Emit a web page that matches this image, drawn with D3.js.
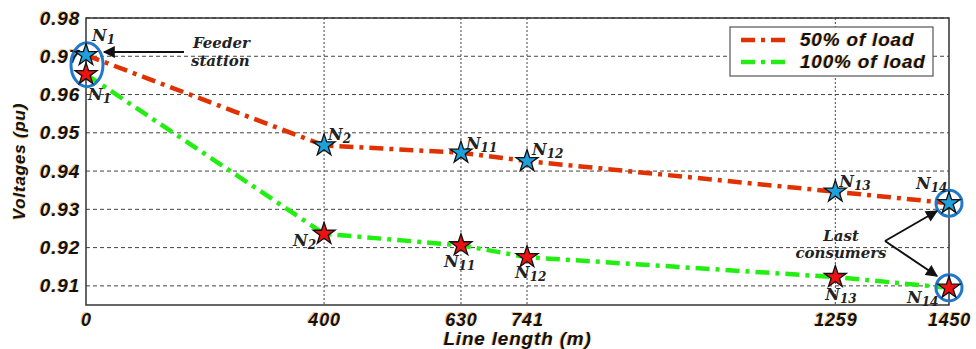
<!DOCTYPE html>
<html>
<head>
<meta charset="utf-8">
<script src="https://cdn.jsdelivr.net/npm/d3@7"></script>
<style>
  body { margin: 0; background: #fff; }
  .tick-lbl, .ax-title, .leg-txt {
    font-family: "Liberation Sans", Arial, sans-serif;
    font-weight: bold; font-style: italic; fill: #111;
    letter-spacing: 0.8px;
    text-shadow: -1px -0.5px 0.5px rgba(230,140,30,0.55);
  }
  .node-lbl, .note {
    font-family: "DejaVu Serif", serif;
    font-weight: bold; font-style: italic; fill: #222;
  }
</style>
</head>
<body>
<div id="chart"></div>
<script>
// data
const lengths = [0, 400, 630, 741, 1259, 1450];
const nodeNames = ['1', '2', '11', '12', '13', '14'];
const load50 = [0.9703, 0.9467, 0.9448, 0.9426, 0.9346, 0.9316];
const load100 = [0.9653, 0.9236, 0.9206, 0.9175, 0.9123, 0.9095];
const yTicks = [0.91, 0.92, 0.93, 0.94, 0.95, 0.96, 0.97, 0.98];
const seriesNames = ['50% of load', '100% of load'];

// label offsets (px) relative to each star
const off50 = [[6, -14], [4, -5], [5, -4], [5, -6], [4, -5], [-33, -14]];
const off100 = [[2, 26], [-31, 12], [-17, 22], [-12, 21], [-10, 23], [-42, 15]];

const W = 976, H = 349;
const margin = { top: 18, right: 27, bottom: 44, left: 86 };
const pw = W - margin.left - margin.right;
const ph = H - margin.top - margin.bottom;

const svg = d3.select('#chart').append('svg')
    .attr('width', W).attr('height', H);

const defs = svg.append('defs');
defs.append('marker')
    .attr('id', 'arr')
    .attr('viewBox', '0 0 10 10')
    .attr('refX', 9).attr('refY', 5)
    .attr('markerWidth', 7).attr('markerHeight', 6)
    .attr('markerUnits', 'strokeWidth')
    .attr('orient', 'auto')
    .append('path')
    .attr('d', 'M0,0 L10,5 L0,10 z')
    .attr('fill', '#111');

const g = svg.append('g').attr('transform', `translate(${margin.left},${margin.top})`);

const x = d3.scaleLinear().domain([0, 1450]).range([0, pw]);
const y = d3.scaleLinear().domain([0.905, 0.98]).range([ph, 0]);

// grid
g.selectAll('.hgrid').data(yTicks).enter().append('line')
    .attr('x1', 0).attr('x2', pw)
    .attr('y1', d => y(d)).attr('y2', d => y(d))
    .attr('stroke', '#444').attr('stroke-width', 1)
    .attr('stroke-dasharray', '4,3');
g.selectAll('.vgrid').data(lengths.slice(1, -1)).enter().append('line')
    .attr('x1', d => x(d)).attr('x2', d => x(d))
    .attr('y1', 0).attr('y2', ph)
    .attr('stroke', '#444').attr('stroke-width', 1)
    .attr('stroke-dasharray', '2,2');

// frame
g.append('rect').attr('width', pw).attr('height', ph)
    .attr('fill', 'none').attr('stroke', '#333').attr('stroke-width', 1.5);

// axes
const xAxis = g.append('g').attr('transform', `translate(0,${ph})`)
    .call(d3.axisBottom(x).tickValues(lengths).tickSize(0).tickPadding(8).tickFormat(d3.format('d')));
xAxis.select('.domain').remove();
xAxis.selectAll('text').attr('class', 'tick-lbl').style('font-size', '18px');

const yAxis = g.append('g')
    .call(d3.axisLeft(y).tickValues(yTicks).tickSize(0).tickPadding(6).tickFormat(d3.format('.2f')));
yAxis.select('.domain').remove();
yAxis.selectAll('text').attr('class', 'tick-lbl').style('font-size', '19px');

svg.append('text').attr('class', 'ax-title')
    .attr('transform', `translate(25,${margin.top + ph / 2}) rotate(-90)`)
    .attr('text-anchor', 'middle').style('font-size', '17px')
    .text('Voltages (pu)');
svg.append('text').attr('class', 'ax-title')
    .attr('x', margin.left + pw / 2).attr('y', 345)
    .attr('text-anchor', 'middle').style('font-size', '19px')
    .text('Line length (m)');

// lines
const series = [
    { vals: load50, color: '#e03200', star: '#1ea0dc', off: off50 },
    { vals: load100, color: '#22ee11', star: '#ee1111', off: off100 }
];
const line = d3.line().x(d => x(d[0])).y(d => y(d[1]));

series.forEach(s => {
    const pts = lengths.map((l, i) => [l, s.vals[i]]);
    g.append('path').attr('d', line(pts))
        .attr('fill', 'none').attr('stroke', s.color)
        .attr('stroke-width', 4.5)
        .attr('stroke-dasharray', '14,6,4,6');
});

// highlight rings
g.append('ellipse')
    .attr('cx', x(0) + 1).attr('cy', (y(load50[0]) + y(load100[0])) / 2)
    .attr('rx', 16).attr('ry', 22)
    .attr('fill', 'none').attr('stroke', '#1f78c8').attr('stroke-width', 3);
[load50, load100].forEach(v => {
    g.append('circle')
        .attr('cx', x(1450)).attr('cy', y(v[5])).attr('r', 13)
        .attr('fill', 'none').attr('stroke', '#1f78c8').attr('stroke-width', 3);
});

// stars + labels
const star = d3.symbol().type(d3.symbolStar).size(150);
series.forEach(s => {
    lengths.forEach((l, i) => {
        g.append('path').attr('d', star)
            .attr('transform', `translate(${x(l)},${y(s.vals[i])})`)
            .attr('fill', s.star).attr('stroke', '#111').attr('stroke-width', 1.3);
        const t = g.append('text').attr('class', 'node-lbl')
            .attr('x', x(l) + s.off[i][0]).attr('y', y(s.vals[i]) + s.off[i][1])
            .style('font-size', '16px');
        t.append('tspan').text('N');
        t.append('tspan').attr('dy', 3).style('font-size', '12px').text(nodeNames[i]);
    });
});

// annotations
g.append('line')
    .attr('x1', 184 - margin.left).attr('y1', 52 - margin.top)
    .attr('x2', 104 - margin.left).attr('y2', 52 - margin.top)
    .attr('stroke', '#111').attr('stroke-width', 2).attr('marker-end', 'url(#arr)');
svg.append('text').attr('class', 'note').attr('x', 193).attr('y', 48)
    .style('font-size', '15px').text('Feeder');
svg.append('text').attr('class', 'note').attr('x', 191).attr('y', 66)
    .style('font-size', '15px').text('station');

svg.append('text').attr('class', 'note').attr('x', 841).attr('y', 241)
    .attr('text-anchor', 'middle').style('font-size', '15px').text('Last');
svg.append('text').attr('class', 'note').attr('x', 841).attr('y', 258)
    .attr('text-anchor', 'middle').style('font-size', '15px').text('consumers');
[[937, 211], [937, 276]].forEach(p => {
    svg.append('line')
        .attr('x1', 885).attr('y1', 241).attr('x2', p[0]).attr('y2', p[1])
        .attr('stroke', '#111').attr('stroke-width', 2).attr('marker-end', 'url(#arr)');
});

// legend
const leg = svg.append('g').attr('transform', 'translate(730,27)');
leg.append('rect').attr('width', 203).attr('height', 49)
    .attr('fill', '#fff').attr('stroke', '#555').attr('stroke-width', 1.2);
series.forEach((s, i) => {
    const ly = 13 + i * 22;
    leg.append('line').attr('x1', 11).attr('x2', 58).attr('y1', ly).attr('y2', ly)
        .attr('stroke', s.color).attr('stroke-width', 4.5)
        .attr('stroke-dasharray', '14,6,4,6');
    leg.append('text').attr('class', 'leg-txt')
        .attr('x', 70).attr('y', ly + 6).style('font-size', '19px')
        .text(seriesNames[i]);
});
</script>
</body>
</html>
